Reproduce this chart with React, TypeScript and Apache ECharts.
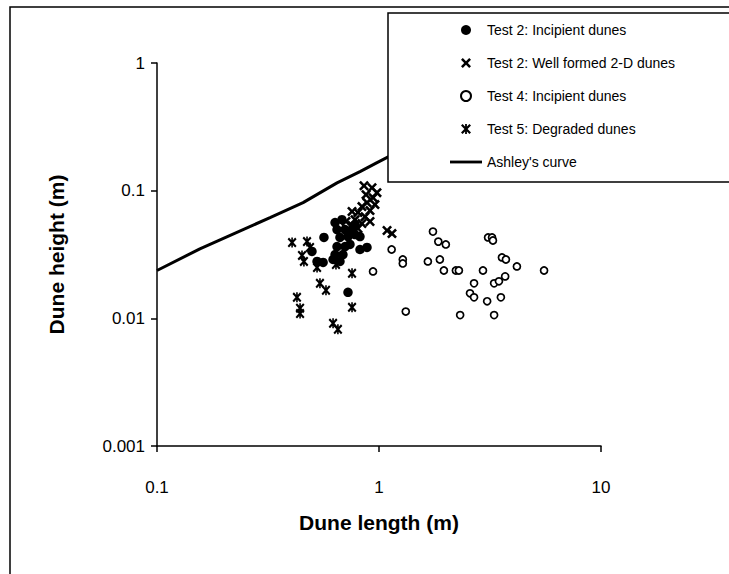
import React, { useEffect, useRef } from "react";
import * as echarts from "echarts";

// Axis tick labels
const xTickLabels = ["0.1", "1", "10"];
const yTickLabels = ["0.001", "0.01", "0.1", "1"];

// Test 2: Incipient dunes (filled dots)
const t2IncL = [0.565, 0.634, 0.681, 0.647, 0.703, 0.756, 0.667, 0.725, 0.78, 0.821, 0.647, 0.703, 0.74, 0.634, 0.688, 0.621, 0.821, 0.883, 0.499, 0.526, 0.56, 0.725, 0.667, 0.78];
const t2IncH = [0.043, 0.0562, 0.0593, 0.0496, 0.0496, 0.0496, 0.043, 0.0437, 0.0453, 0.0437, 0.0365, 0.0365, 0.0379, 0.0316, 0.0316, 0.0289, 0.0346, 0.0359, 0.0334, 0.0279, 0.0274, 0.016, 0.0279, 0.0543];

// Test 2: Well formed 2-D dunes (crosses)
const t2WellL = [0.856, 0.93, 0.979, 0.874, 0.94, 0.883, 0.959, 0.838, 0.911, 0.804, 0.756, 0.865, 0.78, 0.911, 0.838, 0.756, 0.804, 0.71, 1.087, 1.144];
const t2WellH = [0.1094, 0.1055, 0.0965, 0.0931, 0.0882, 0.0806, 0.0778, 0.075, 0.0698, 0.0674, 0.0686, 0.0626, 0.0593, 0.0573, 0.0553, 0.0533, 0.0505, 0.0573, 0.0487, 0.0461];

// Test 4: Incipient dunes (open circles)
const t4IncL = [0.94, 1.14, 1.28, 1.28, 1.32, 1.66, 1.75, 1.85, 2.0, 1.88, 1.96, 2.22, 2.29, 2.32, 2.68, 2.57, 2.68, 2.94, 3.1, 3.23, 3.26, 3.58, 3.73, 4.18, 3.3, 3.47, 3.7, 3.07, 3.54, 3.3, 5.54];
const t4IncH = [0.0233, 0.0346, 0.0289, 0.0269, 0.0113, 0.0279, 0.0478, 0.0399, 0.0379, 0.0289, 0.0237, 0.0237, 0.0237, 0.0106, 0.0188, 0.0157, 0.0146, 0.0237, 0.043, 0.043, 0.0407, 0.03, 0.0289, 0.0255, 0.0188, 0.0195, 0.0213, 0.0136, 0.0146, 0.0106, 0.0237];

// Test 5: Degraded dunes (asterisks)
const t5DegL = [0.406, 0.474, 0.489, 0.45, 0.459, 0.526, 0.64, 0.756, 0.542, 0.577, 0.427, 0.441, 0.441, 0.756, 0.621, 0.653];
const t5DegH = [0.0392, 0.0399, 0.0359, 0.0311, 0.0279, 0.025, 0.0264, 0.0225, 0.0188, 0.0166, 0.0146, 0.012, 0.0109, 0.0122, 0.00914, 0.0082];

// Ashley's curve
const ashleyL = [0.1, 0.156, 0.323, 0.455, 0.647, 0.821, 0.98, 1.1, 1.3];
const ashleyH = [0.0237, 0.035, 0.0615, 0.0806, 0.115, 0.141, 0.166, 0.184, 0.21];

const seriesNames = [
  "Test 2: Incipient dunes",
  "Test 2: Well formed 2-D dunes",
  "Test 4: Incipient dunes",
  "Test 5: Degraded dunes",
  "Ashley's curve",
];

const zip = (a: number[], b: number[]) => a.map((v, i) => [v, b[i]]);

const CROSS = "path://M0,1.8L1.8,0L5,3.2L8.2,0L10,1.8L6.8,5L10,8.2L8.2,10L5,6.8L1.8,10L0,8.2L3.2,5Z";
const STAR = "path://M0,1.6L1.6,0L5,3.4L8.4,0L10,1.6L6.6,5L10,8.4L8.4,10L5,6.6L1.6,10L0,8.4L3.4,5ZM4.1,0L5.9,0L5.9,10L4.1,10Z";
const LINE_ICON = "path://M0,0L34,0L34,3L0,3Z";

const FONT = "'Liberation Sans', Arial, sans-serif";

export default function App() {
  const ref = useRef<HTMLDivElement>(null);
  useEffect(() => {
    if (!ref.current) return;
    const chart = echarts.init(ref.current, null, { renderer: "svg" });
    chart.setOption({
      animation: false,
      backgroundColor: "#fff",
      textStyle: { fontFamily: FONT },
      grid: { left: 157, right: 128, top: 63, bottom: 128, containLabel: false },
      xAxis: {
        type: "log",
        logBase: 10,
        min: 0.1,
        max: 10,
        name: "Dune length (m)",
        nameLocation: "middle",
        nameGap: 66,
        nameTextStyle: { color: "#000", fontSize: 21, fontWeight: "bold", fontFamily: FONT },
        axisLine: { onZero: false, lineStyle: { color: "#000", width: 1.5 } },
        axisTick: { show: true, inside: false, length: 6, lineStyle: { color: "#000", width: 1.5 } },
        minorTick: { show: false },
        splitLine: { show: false },
        axisLabel: {
          color: "#000",
          fontSize: 17,
          fontFamily: FONT,
          margin: 33,
          formatter: (v: number) => xTickLabels[Math.round(Math.log10(v)) + 1] ?? "",
        },
      },
      yAxis: {
        type: "log",
        logBase: 10,
        min: 0.001,
        max: 1,
        name: "Dune height (m)",
        nameLocation: "middle",
        nameGap: 90,
        nameTextStyle: { color: "#000", fontSize: 21, fontWeight: "bold", fontFamily: FONT },
        axisLine: { onZero: false, lineStyle: { color: "#000", width: 1.5 } },
        axisTick: { show: true, inside: false, length: 6, lineStyle: { color: "#000", width: 1.5 } },
        minorTick: { show: false },
        splitLine: { show: false },
        axisLabel: {
          color: "#000",
          fontSize: 17,
          fontFamily: FONT,
          margin: 12,
          formatter: (v: number) => yTickLabels[Math.round(Math.log10(v)) + 3] ?? "",
        },
      },
      legend: {
        orient: "vertical",
        left: 450,
        top: 23,
        padding: 0,
        itemGap: 19,
        itemWidth: 32,
        itemHeight: 10,
        z: 100,
        data: [
          { name: seriesNames[0] },
          { name: seriesNames[1] },
          { name: seriesNames[2] },
          { name: seriesNames[3] },
          { name: seriesNames[4], icon: LINE_ICON },
        ],
        textStyle: { color: "#000", fontSize: 14, fontFamily: FONT },
      },
      graphic: [
        {
          type: "rect",
          z: 0,
          shape: { x: 10, y: 7, width: 800, height: 700 },
          style: { fill: "none", stroke: "#000", lineWidth: 1.5 },
        },
        {
          type: "rect",
          z: 50,
          shape: { x: 388, y: 13, width: 420, height: 169 },
          style: { fill: "#fff", stroke: "#000", lineWidth: 1.5 },
        },
      ],
      series: [
        {
          name: seriesNames[0],
          type: "scatter",
          symbol: "circle",
          symbolSize: 9.5,
          itemStyle: { color: "#000", opacity: 1 },
          data: zip(t2IncL, t2IncH),
        },
        {
          name: seriesNames[1],
          type: "scatter",
          symbol: CROSS,
          symbolSize: 10,
          itemStyle: { color: "#000", opacity: 1 },
          data: zip(t2WellL, t2WellH),
        },
        {
          name: seriesNames[2],
          type: "scatter",
          symbol: "circle",
          symbolSize: 7,
          itemStyle: { color: "#fff", borderColor: "#000", borderWidth: 1.7, opacity: 1 },
          data: zip(t4IncL, t4IncH),
        },
        {
          name: seriesNames[3],
          type: "scatter",
          symbol: STAR,
          symbolSize: [9, 10],
          itemStyle: { color: "#000", opacity: 1 },
          data: zip(t5DegL, t5DegH),
        },
        {
          name: seriesNames[4],
          type: "line",
          symbol: "none",
          showSymbol: false,
          smooth: false,
          lineStyle: { color: "#000", width: 3 },
          itemStyle: { color: "#000" },
          data: zip(ashleyL, ashleyH),
        },
      ],
    });
    return () => chart.dispose();
  }, []);
  return (
    <div
      ref={ref}
      style={{ position: "fixed", left: 0, top: 0, width: 729, height: 574 }}
    />
  );
}
